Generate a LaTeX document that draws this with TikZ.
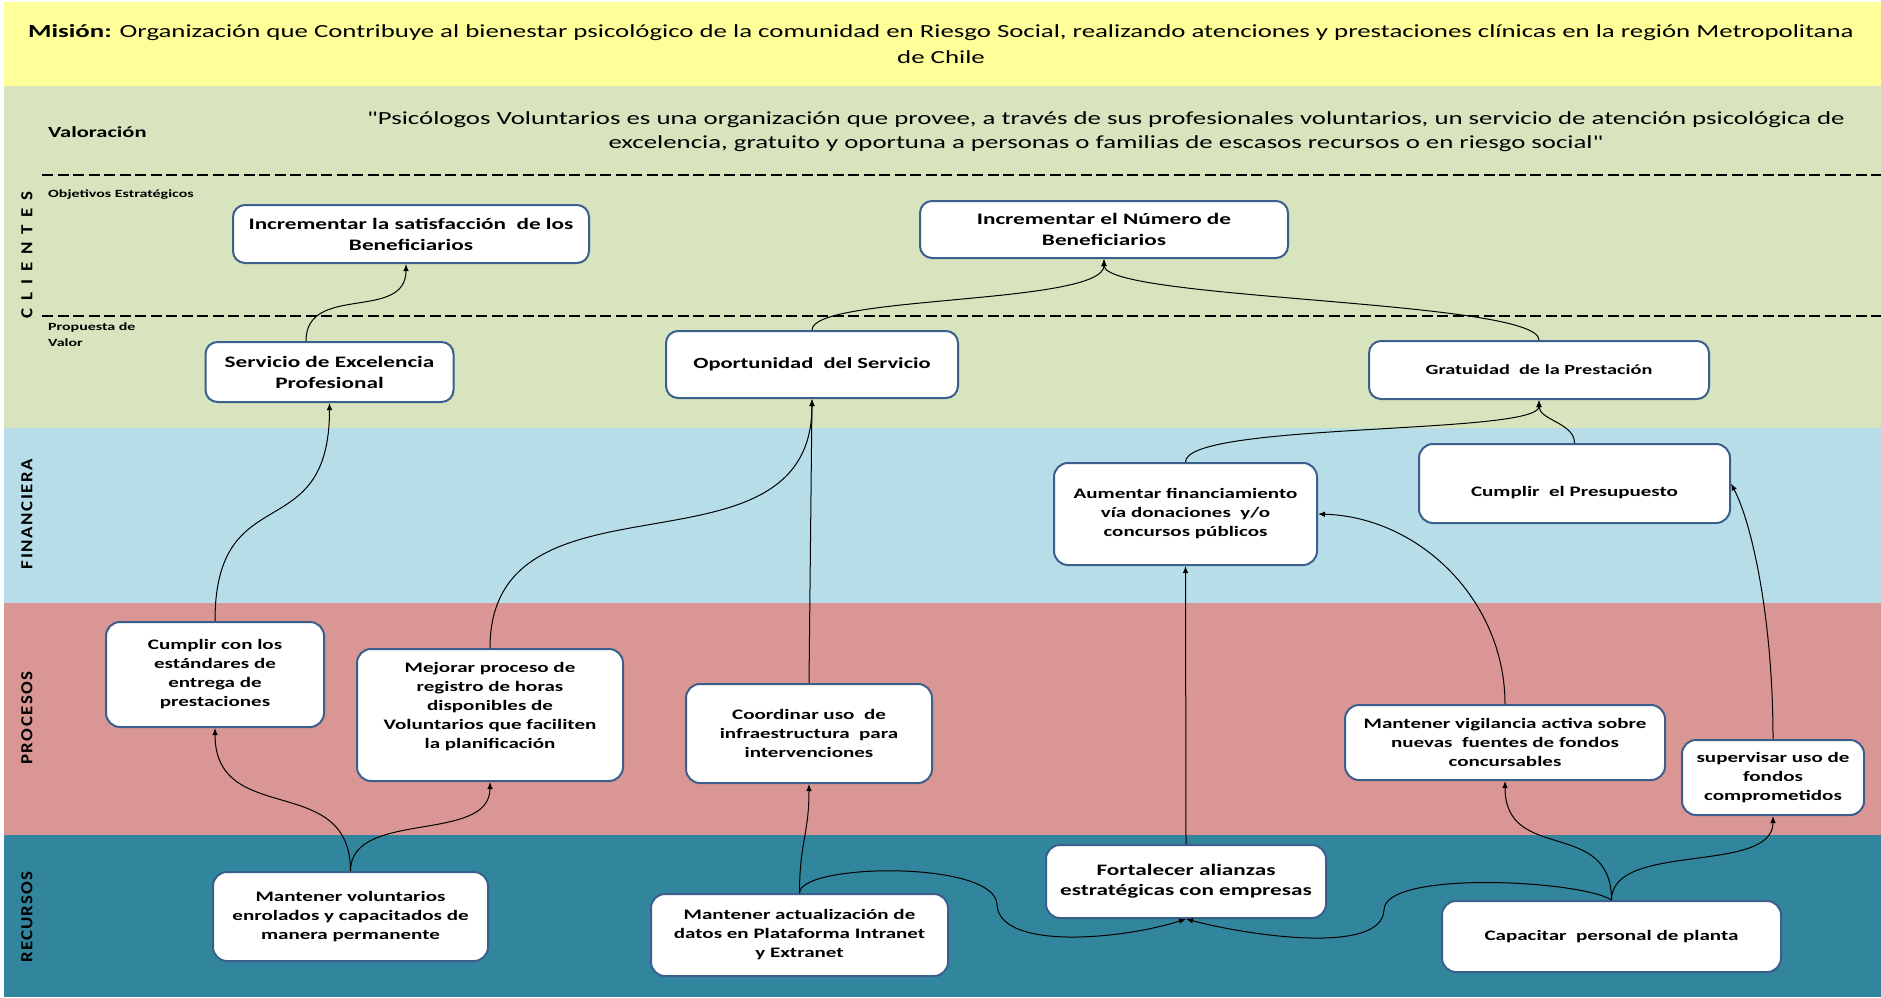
\documentclass[tikz,border=0pt]{standalone}
\usepackage{fontspec}
\setmainfont{Carlito}[FakeStretch=1.45, Ligatures=TeXOff]
\usetikzlibrary{arrows.meta}

\definecolor{bandyellow}{HTML}{FFFF99}
\definecolor{bandgreen}{HTML}{D7E4BD}
\definecolor{bandblue}{HTML}{B7DEE8}
\definecolor{bandpink}{HTML}{D99694}
\definecolor{bandteal}{HTML}{31859C}
\definecolor{boxline}{HTML}{3B5F8D}

\newcommand\sidename[2]{\scalebox{1}[1.3]{\hbox to #1{#2}}}

\tikzset{
  objbox/.style={draw=boxline, line width=2pt, fill=white, rounded corners=14pt,
    align=center, inner sep=2pt, font=\bfseries\fontsize{14.5}{19}\selectfont},
  topbox/.style={objbox, rounded corners=12pt, font=\bfseries\fontsize{16}{21}\selectfont},
  boxtext/.style={align=center, inner sep=0pt, font=\bfseries\fontsize{14.5}{19}\selectfont},
  link/.style={draw=black, line width=1pt, -{Latex[length=7pt,width=5.5pt]}},
  sep/.style={draw=black, line width=2pt, dash pattern=on 11pt off 4.5pt},
  side/.style={rotate=90, inner sep=0pt, font=\bfseries\fontsize{13}{13}\selectfont},
  small/.style={inner sep=0pt, align=left, font=\bfseries\fontsize{11}{16}\selectfont},
}

\begin{document}
\begin{tikzpicture}[x=1pt, y=1pt]
\useasboundingbox (0,0) rectangle (1881,-997);
\fill[white] (0,0) rectangle (1881,-997);

% perspective bands
\fill[bandyellow] (4,-2) rectangle (1881,-86);
\fill[bandgreen]  (4,-86) rectangle (1881,-428);
\fill[bandblue]   (4,-428) rectangle (1881,-603);
\fill[bandpink]   (4,-603) rectangle (1881,-835);
\fill[bandteal]   (4,-835) rectangle (1881,-997);

% separators inside the client band
\draw[sep] (42,-175) -- (1881,-175);
\draw[sep] (42,-316) -- (1881,-316);

% mission and value statement
\node[align=center, inner sep=0pt, font=\fontsize{18.5}{26}\selectfont] (mision) at (941,-44)
  {\textbf{Misión:} Organización que Contribuye al bienestar psicológico de la comunidad en Riesgo Social, realizando atenciones y prestaciones clínicas en la región Metropolitana\\de Chile};
\node[anchor=west, inner sep=0pt, font=\bfseries\fontsize{15.5}{18}\selectfont] (valoracion) at (48,-132) {Valoración};
\node[align=center, inner sep=0pt, font=\fontsize{18.5}{24}\selectfont] (cita) at (1106,-132)
  {"Psicólogos Voluntarios es una organización que provee, a través de sus profesionales voluntarios, un servicio de atención psicológica de\\excelencia, gratuito y oportuna a personas o familias de escasos recursos o en riesgo social"};
\node[small, anchor=west] (objetivos) at (48,-195) {Objetivos Estratégicos};
\node[small, anchor=west] (propuesta) at (48,-335) {Propuesta de\\Valor};

% perspective names
\node[side] (sClientes) at (27,-255) {\sidename{126pt}{C\hfil L\hfil I\hfil E\hfil N\hfil T\hfil E\hfil S}};
\node[side] (sFinanciera) at (27,-514) {\sidename{110pt}{F\hfil I\hfil N\hfil A\hfil N\hfil C\hfil I\hfil E\hfil R\hfil A}};
\node[side] (sProcesos) at (27,-718) {\sidename{93pt}{P\hfil R\hfil O\hfil C\hfil E\hfil S\hfil O\hfil S}};
\node[side] (sRecursos) at (27,-917) {\sidename{91pt}{R\hfil E\hfil C\hfil U\hfil R\hfil S\hfil O\hfil S}};

% clients
\node[topbox, minimum width=356pt, minimum height=58pt] (A) at (411,-234) {Incrementar la satisfacción\ \ de los\\Beneficiarios};
\node[topbox, minimum width=368pt, minimum height=57pt] (B) at (1104,-229.5) {Incrementar el Número de\\Beneficiarios};
\node[topbox, minimum width=248pt, minimum height=60pt] (C) at (329.5,-372) {Servicio de Excelencia\\Profesional};
\node[topbox, minimum width=292pt, minimum height=67pt, font=\bfseries\fontsize{15.5}{21}\selectfont] (D) at (812,-364.5) {Oportunidad\ \ del Servicio};
\node[topbox, minimum width=340pt, minimum height=58pt, font=\bfseries\fontsize{14}{19}\selectfont] (E) at (1539,-370) {Gratuidad\ \ de la Prestación};

% financial
\node[objbox, minimum width=263pt, minimum height=102pt] (F) at (1185.5,-514) {Aumentar financiamiento\\vía donaciones\ \ y/o\\concursos públicos};
\node[objbox, minimum width=311pt, minimum height=79pt] (G) at (1574.5,-483.5) {};
\node[boxtext] (Gt) at (1574.5,-492.7) {Cumplir\ \ el Presupuesto};

% processes
\node[objbox, minimum width=218pt, minimum height=105pt] (H) at (215,-674.5) {Cumplir con los\\estándares de\\entrega de\\prestaciones};
\node[objbox, minimum width=266pt, minimum height=132pt] (I) at (490,-715) {};
\node[boxtext] (It) at (490,-707) {Mejorar proceso de\\registro de horas\\disponibles de\\Voluntarios que faciliten\\la planificación};
\node[objbox, minimum width=246pt, minimum height=99pt] (J) at (809,-733.5) {Coordinar uso\ \ de\\infraestructura\ \ para\\intervenciones};
\node[objbox, minimum width=320pt, minimum height=75pt] (K) at (1505,-742.5) {Mantener vigilancia activa sobre\\nuevas\ \ fuentes de fondos\\concursables};
\node[objbox, minimum width=182pt, minimum height=75pt] (L) at (1773,-777.5) {supervisar uso de\\fondos\\comprometidos};

% resources
\node[objbox, minimum width=275pt, minimum height=89pt] (M) at (350.5,-916.5) {Mantener voluntarios\\enrolados y capacitados de\\manera permanente};
\node[objbox, minimum width=297pt, minimum height=82pt] (N) at (799.5,-935) {Mantener actualización de\\datos en Plataforma Intranet\\y Extranet};
\node[objbox, minimum width=280pt, minimum height=73pt, font=\bfseries\fontsize{16}{20}\selectfont] (O) at (1186,-881.5) {Fortalecer alianzas\\estratégicas con empresas};
\node[objbox, minimum width=339pt, minimum height=71pt] (P) at (1611.5,-936.5) {Capacitar\ \ personal de planta};

% bends of the two wavy resource links
\coordinate (nw) at (997,-905);
\coordinate (pw) at (1384,-910);

% cause-effect links
\draw[link] ([xshift=-23.5pt]C.north) .. controls +(0,58) and +(0,-58) .. ([xshift=-5pt]A.south);
\draw[link] (D.north) .. controls +(0,35) and +(0,-46) .. (B.south);
\draw[link] (E.north) .. controls +(0,40) and +(0,-41) .. (B.south);
\draw[link] (H.north) .. controls +(0,146) and +(0,-147) .. (C.south);
\draw[link] (I.north) .. controls +(0,190) and +(0,-190) .. (D.south);
\draw[link] (J.north) -- (D.south);
\draw[link] (F.north) .. controls +(0,40) and +(0,-35) .. (E.south);
\draw[link] (G.north) .. controls +(0,20) and +(0,-20) .. (E.south);
\draw[link] (K.north) .. controls +(0,103) and +(102,-3) .. (F.east);
\draw[link] (L.north) .. controls +(0,120) and +(21,-40) .. (G.east);
\draw[link] (M.north) .. controls +(0,100) and +(0,-100) .. (H.south);
\draw[link] (M.north) .. controls +(0,62) and +(0,-62) .. (I.south);
\draw[link] (N.north) .. controls +(0,50) and +(0,-50) .. (J.south);
\draw[link] (N.north) .. controls +(0,30) and +(0,45) .. (nw) .. controls +(3,-45) and +(-66,-21) .. (O.south);
\draw[link] (P.north) .. controls +(-31,20) and +(0,40) .. (pw) .. controls +(-2,-45) and +(64,-17) .. (O.south);
\draw[link] (P.north) .. controls +(0,83) and +(0,-83) .. (K.south);
\draw[link] (P.north) .. controls +(0,59) and +(0,-59) .. (L.south);
\draw[link] (O.north) -- (F.south);
\end{tikzpicture}
\end{document}
